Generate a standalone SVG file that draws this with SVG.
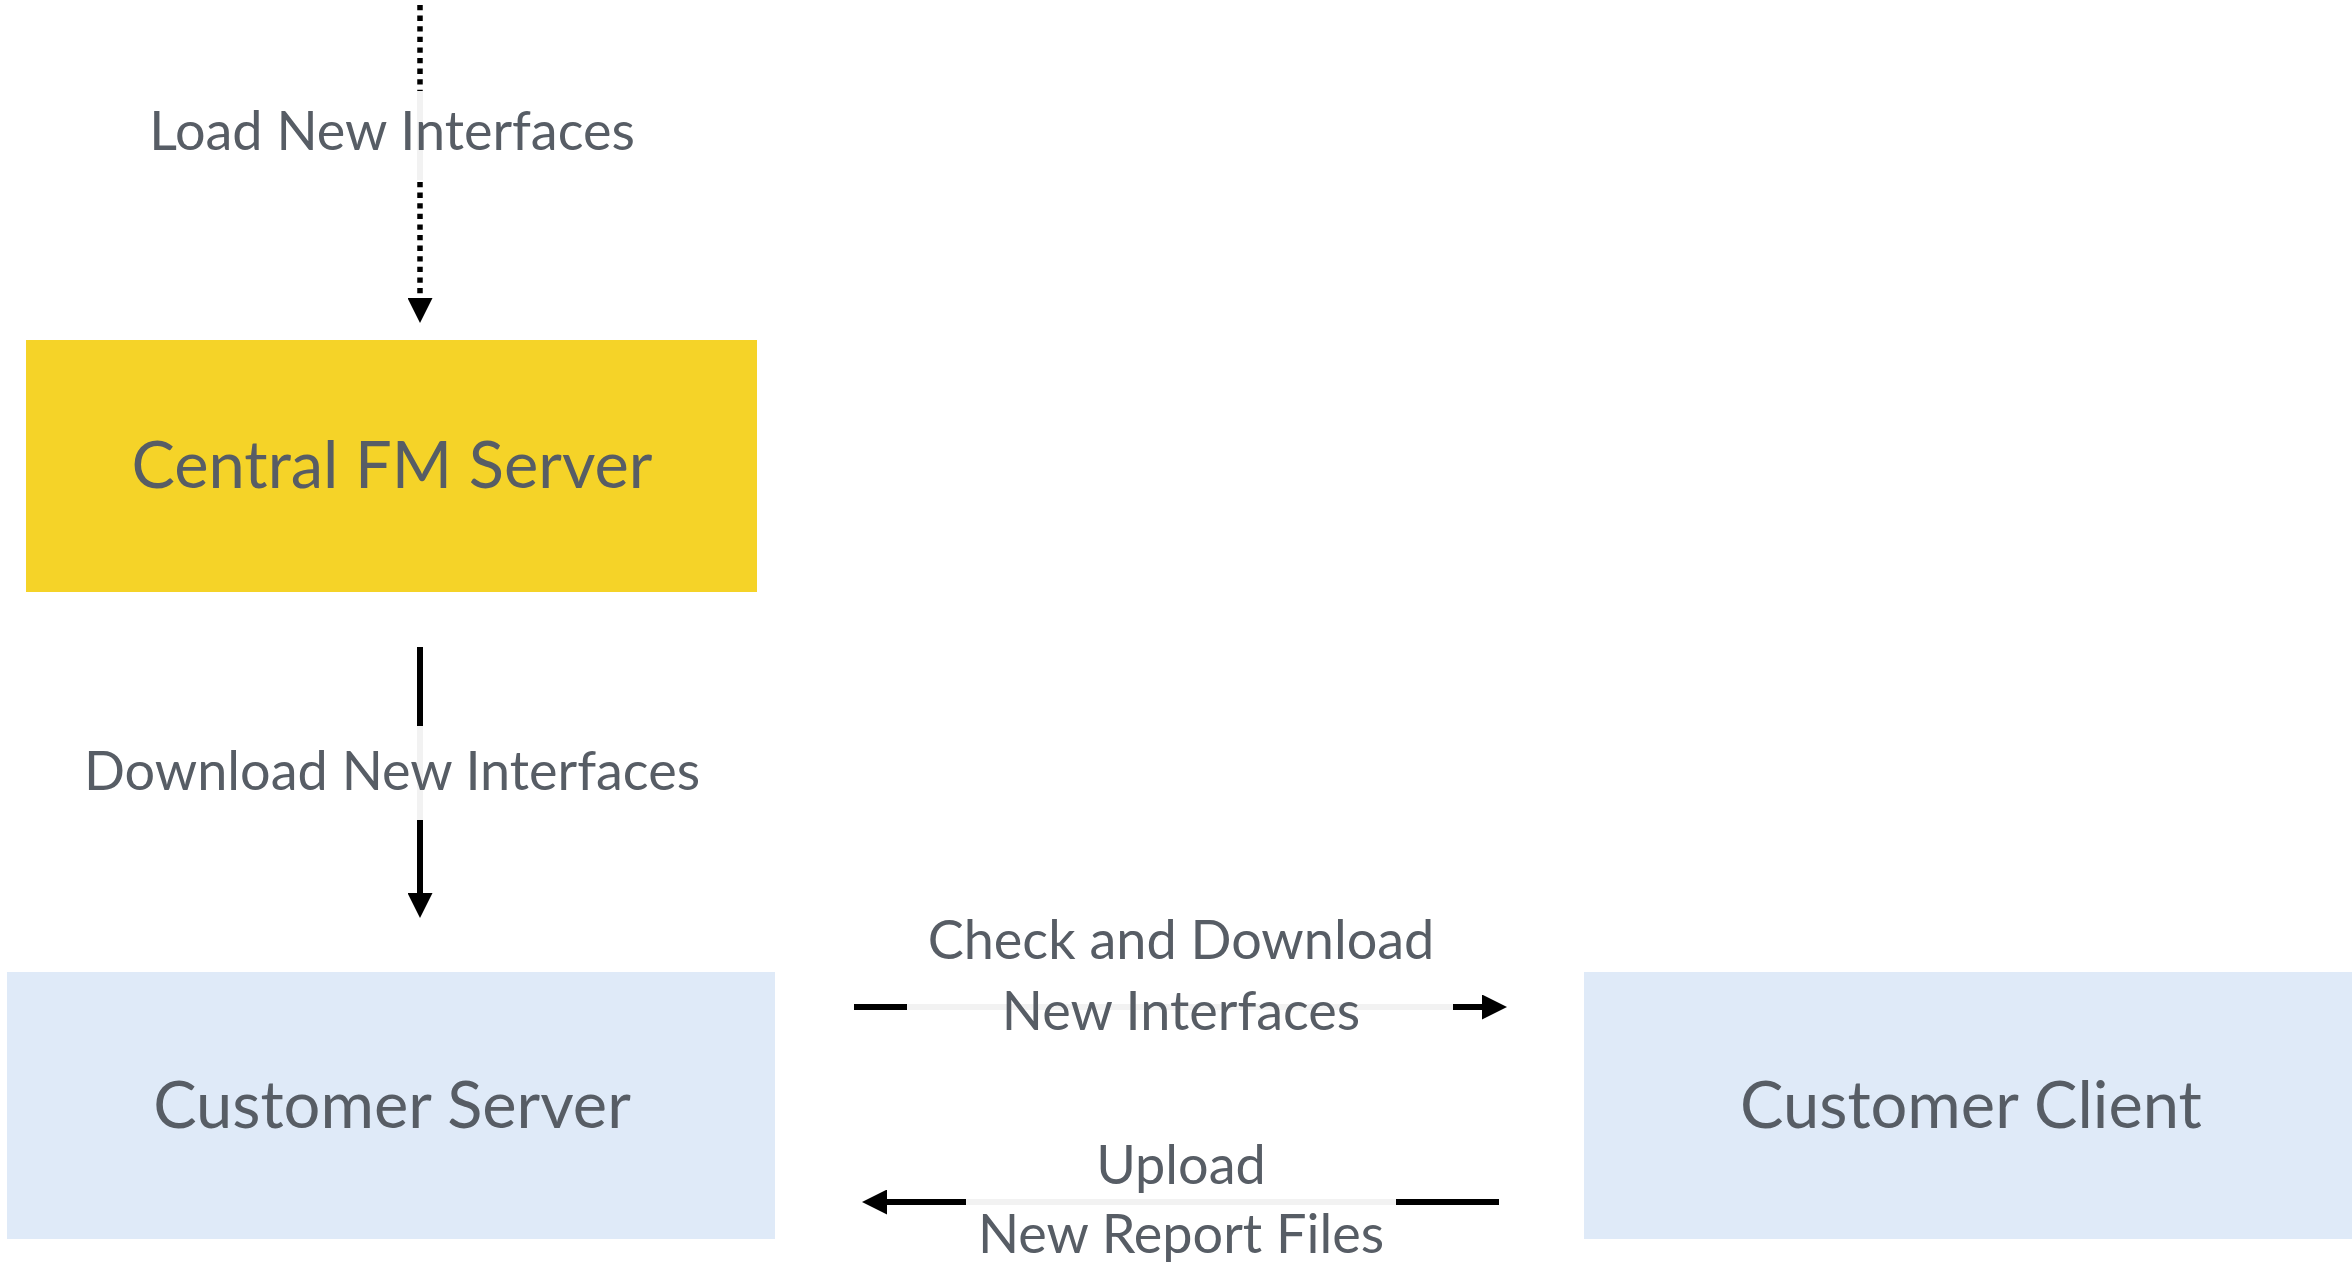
<svg xmlns="http://www.w3.org/2000/svg" width="2352" height="1267" viewBox="0 0 2352 1267">
<style>
.lbl{font-family:Lato,"Noto Sans","Liberation Sans",sans-serif;font-weight:400;fill:#575d65;text-anchor:middle}
.node{font-size:65px}
.edge{font-size:54px}
.ln{stroke:#000;stroke-width:6;fill:none}
.dot{stroke:#000;stroke-width:5.5;fill:none;stroke-dasharray:5.3 5.3}
.bg{stroke:#f2f2f2;stroke-width:6;fill:none}
</style>
<defs>
<marker id="ah" viewBox="0 0 25 25" refX="0" refY="12.5" markerWidth="25" markerHeight="25" markerUnits="userSpaceOnUse" orient="auto">
<path d="M0,0 L25,12.5 L0,25 Z" fill="#000"/>
</marker>
</defs>
<rect width="2352" height="1267" fill="#fff"/>
<g id="connectors">
<g id="e-load">
<line class="bg" x1="420" y1="91" x2="420" y2="180"/>
<line class="dot" x1="420" y1="5" x2="420" y2="91"/>
<line class="dot" x1="420" y1="182" x2="420" y2="298" marker-end="url(#ah)"/>
<text class="lbl edge" x="392" y="150">Load New Interfaces</text>
</g>
<g id="e-download">
<line class="bg" x1="420" y1="726" x2="420" y2="820"/>
<line class="ln" x1="420" y1="647" x2="420" y2="726"/>
<line class="ln" x1="420" y1="820" x2="420" y2="893" marker-end="url(#ah)"/>
<text class="lbl edge" x="392" y="790">Download New Interfaces</text>
</g>
<g id="e-check">
<line class="bg" x1="907" y1="1007" x2="1453" y2="1007"/>
<line class="ln" x1="854" y1="1007" x2="907" y2="1007"/>
<line class="ln" x1="1453" y1="1007" x2="1482" y2="1007" marker-end="url(#ah)"/>
<text class="lbl edge" x="1181" y="959">Check and Download</text>
<text class="lbl edge" x="1181" y="1030">New Interfaces</text>
</g>
<g id="e-upload">
<line class="bg" x1="966" y1="1202" x2="1396" y2="1202"/>
<line class="ln" x1="1499" y1="1202" x2="1396" y2="1202"/>
<line class="ln" x1="966" y1="1202" x2="887" y2="1202" marker-end="url(#ah)"/>
<text class="lbl edge" x="1181" y="1184">Upload</text>
<text class="lbl edge" x="1181" y="1253">New Report Files</text>
</g>
</g>
<g id="n-central">
<rect x="26" y="340" width="731" height="252" fill="#f5d328"/>
<text class="lbl node" x="392" y="488">Central FM Server</text>
</g>
<g id="n-server">
<rect x="7" y="972" width="768" height="267" fill="#dfeaf8"/>
<text class="lbl node" x="392" y="1128">Customer Server</text>
</g>
<g id="n-client">
<rect x="1584" y="972" width="768" height="267" fill="#dfeaf8"/>
<text class="lbl node" x="1971" y="1128">Customer Client</text>
</g>
</svg>
